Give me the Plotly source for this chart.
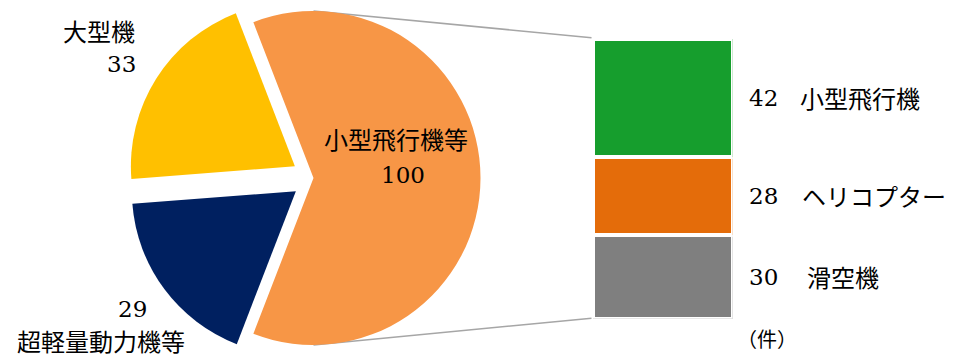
import math
import plotly.graph_objects as go

# Accidents by aircraft category (件)
pie_labels = ["小型飛行機等", "超軽量動力機等", "大型機"]
pie_values = [100, 29, 33]
pie_colors = ["#F79646", "#002060", "#FFC000"]

# Breakdown of 小型飛行機等
bar_labels = ["小型飛行機", "ヘリコプター", "滑空機"]
bar_values = [42, 28, 30]
bar_colors = ["#169E2D", "#E46C0A", "#7F7F7F"]

unit_label = "（件）"

W, H = 957, 358
JP = "Noto Sans CJK JP"
NUM = "DejaVu Serif"
CLEAR = "rgba(0,0,0,0)"
NUM_SIZE = 23
JP_SIZE = 24

# pie geometry (pixels)
cx, cy, r_main = 313.5, 178.0, 167.0
r_exploded = 164.0
explode_px = 22.0
exploded = [False, True, True]

total = sum(pie_values)
# first slice centred on 3 o'clock
rotation = 90 - 180 * pie_values[0] / total


def paper_x(px):
    return px / W


def paper_y(py):
    return 1 - py / H


fig = go.Figure()

cum = 0
for i, v in enumerate(pie_values):
    mid = math.radians(rotation + 360 * (cum + v / 2) / total)
    cum += v
    if exploded[i]:
        r = r_exploded
        sx = cx + explode_px * math.sin(mid)
        sy = cy - explode_px * math.cos(mid)
    else:
        r, sx, sy = r_main, cx, cy
    # one visible slice per trace so each can sit at its own centre
    colors = [c if j == i else CLEAR for j, c in enumerate(pie_colors)]
    fig.add_trace(go.Pie(
        labels=pie_labels, values=pie_values, sort=False,
        direction="clockwise", rotation=rotation,
        marker=dict(colors=colors, line=dict(width=0)),
        textinfo="none", hoverinfo="label+value",
        showlegend=False,
        domain=dict(x=[paper_x(sx - r), paper_x(sx + r)],
                    y=[paper_y(sy + r), paper_y(sy - r)]),
    ))

# stacked breakdown column: first item on top
bar_left, bar_right = 593.0, 732.7
bar_top, bar_bottom = 38.7, 318.7
bar_total = sum(bar_values)
for lab, v, c in reversed(list(zip(bar_labels, bar_values, bar_colors))):
    fig.add_trace(go.Bar(
        x=[0], y=[v], width=1, name=lab,
        marker=dict(color=c, line=dict(color="white", width=4)),
        showlegend=False, hoverinfo="name+y",
    ))

annotations = []


def note(text, x, y, font, size, xanchor="center", yref="paper"):
    annotations.append(dict(
        text=text, x=paper_x(x), y=y if yref != "paper" else paper_y(y),
        xref="paper", yref=yref, xanchor=xanchor, yanchor="middle",
        showarrow=False, font=dict(family=font, size=size, color="#000000"),
    ))


# pie labels
note(pie_labels[2], 137, 31, JP, JP_SIZE, "right")
note(str(pie_values[2]), 138, 64, NUM, NUM_SIZE, "right")
note(pie_labels[0], 396, 138, JP, JP_SIZE)
note(str(pie_values[0]), 403, 175, NUM, NUM_SIZE)
note(str(pie_values[1]), 132, 309, NUM, NUM_SIZE)
note(pie_labels[1], 101, 340, JP, JP_SIZE)

# column labels at segment centres
top = bar_total
label_x = [798, 800, 805]
for k, (lab, v) in enumerate(zip(bar_labels, bar_values)):
    centre = top - v / 2
    top -= v
    note(str(v), 763, centre, NUM, NUM_SIZE, "center", "y")
    note(lab, label_x[k], centre, JP, JP_SIZE, "left", "y")
note(unit_label, 767, 338, JP, 20)

# connector lines from the main pie to the column
shapes = [
    dict(type="line", xref="paper", yref="paper", layer="below",
         x0=paper_x(cx), y0=paper_y(cy - r_main),
         x1=paper_x(bar_left - 1.5), y1=paper_y(bar_top - 1),
         line=dict(color="#A6A6A6", width=1.6)),
    dict(type="line", xref="paper", yref="paper", layer="below",
         x0=paper_x(cx), y0=paper_y(cy + r_main),
         x1=paper_x(bar_left - 1.5), y1=paper_y(bar_bottom - 0.5),
         line=dict(color="#A6A6A6", width=1.6)),
]

fig.update_layout(
    width=W, height=H, margin=dict(l=0, r=0, t=0, b=0),
    paper_bgcolor="white", plot_bgcolor="rgba(0,0,0,0)",
    barmode="stack", bargap=0,
    xaxis=dict(domain=[paper_x(bar_left), paper_x(bar_right)], range=[-0.5, 0.5],
               visible=False, fixedrange=True),
    yaxis=dict(domain=[paper_y(bar_bottom), paper_y(bar_top)], range=[0, bar_total],
               visible=False, fixedrange=True),
    annotations=annotations, shapes=shapes,
)

fig.write_html("out.html")
